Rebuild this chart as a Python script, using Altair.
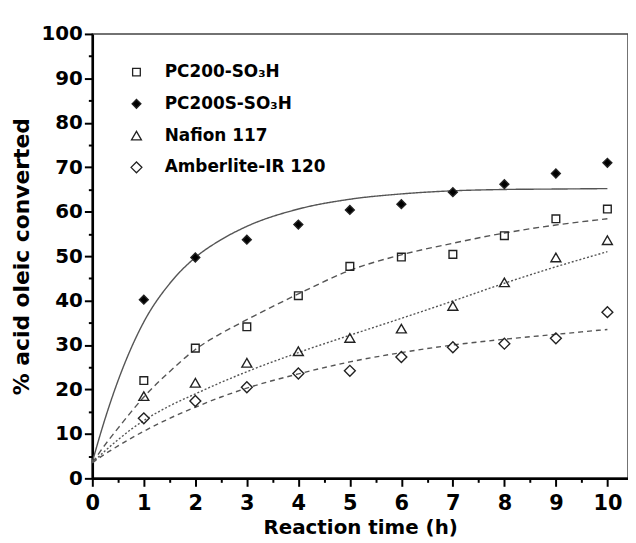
import altair as alt
import pandas as pd

series = ["PC200-SO₃H", "PC200S-SO₃H", "Nafion 117", "Amberlite-IR 120"]
shapes = ["square", "diamond", "triangle-up", "diamond"]
fills = ["transparent", "black", "transparent", "transparent"]
sizes = [60, 120, 95, 115]
dashes = [[6, 4], [1, 0], [2, 2], [5, 4]]

# measured points
times = [1, 2, 3, 4, 5, 6, 7, 8, 9, 10]
pc200 = [22.0, 29.3, 34.1, 41.1, 47.7, 49.8, 50.4, 54.6, 58.4, 60.6]
pc200s = [40.2, 49.7, 53.7, 57.1, 60.4, 61.7, 64.4, 66.2, 68.6, 71.0]
nafion = [18.5, 21.5, 26.0, 28.6, 31.6, 33.7, 38.8, 44.1, 49.7, 53.6]
amberlite = [13.5, 17.4, 20.5, 23.6, 24.2, 27.3, 29.5, 30.3, 31.5, 37.4]

# fitted curves
fit_t = [0, 0.25, 0.5, 0.75, 1, 1.5, 2, 2.5, 3, 4, 5, 6, 7, 8, 9, 10]
pc200_fit = [3.5, 7.6, 11.3, 14.9, 18.3, 24.0, 29.0, 32.6, 35.7, 41.5, 46.8, 50.3, 52.9, 55.2, 57.0, 58.4]
pc200s_fit = [3.7, 13.5, 22.0, 29.2, 35.2, 43.8, 49.7, 53.7, 56.7, 60.6, 62.8, 64.0, 64.7, 65.0, 65.1, 65.2]
nafion_fit = [3.5, 6.2, 8.7, 11.0, 13.0, 16.3, 19.0, 21.6, 24.0, 28.3, 32.2, 36.0, 39.9, 43.9, 47.6, 51.0]
amberlite_fit = [3.5, 5.5, 7.3, 9.0, 10.6, 13.5, 16.0, 18.3, 20.3, 23.5, 26.2, 28.3, 30.0, 31.3, 32.4, 33.5]

pt_vals = [pc200, pc200s, nafion, amberlite]
fit_vals = [pc200_fit, pc200s_fit, nafion_fit, amberlite_fit]

pts = pd.DataFrame(
    [{"series": s, "t": t, "y": v} for s, vals in zip(series, pt_vals) for t, v in zip(times, vals)]
)
fits = pd.DataFrame(
    [{"series": s, "t": t, "y": v} for s, vals in zip(series, fit_vals) for t, v in zip(fit_t, vals)]
)

FONT = "DejaVu Sans"

x_ticks = [i * 0.5 for i in range(21)]
y_ticks = [i * 5 for i in range(21)]

x_enc = alt.X(
    "t:Q",
    scale=alt.Scale(domain=[0, 10.4], nice=False, zero=False),
    axis=alt.Axis(
        values=x_ticks,
        labelExpr="datum.value % 1 === 0 ? format(datum.value, 'd') : ''",
        labelOverlap=False,
        labelBound=False,
        labelFlush=False,
        tickSize={"condition": {"test": "datum.value % 1 === 0", "value": 8}, "value": 4},
        labelFontSize=21,
        labelPadding=6,
        title="Reaction time (h)",
        titleFontSize=20,
        titlePadding=5,
    ),
)
y_enc = alt.Y(
    "y:Q",
    scale=alt.Scale(domain=[0, 100], nice=False),
    axis=alt.Axis(
        values=y_ticks,
        labelExpr="datum.value % 10 === 0 ? format(datum.value, 'd') : ''",
        labelOverlap=False,
        labelFlush=False,
        tickSize={"condition": {"test": "datum.value % 10 === 0", "value": 8}, "value": 4},
        labelFontSize=20,
        labelPadding=2,
        title="% acid oleic converted",
        titleFontSize=22,
        titlePadding=8,
    ),
)

leg = alt.Legend(
    title=None,
    orient="none",
    legendX=36,
    legendY=30,
    padding=0,
    labelFont=FONT,
    labelFontWeight="bold",
    labelFontSize=17,
    labelColor="black",
    labelOffset=20,
    labelLimit=0,
    rowPadding=14,
    symbolStrokeWidth=1.3,
    symbolOpacity=1,
)

lines = alt.Chart(fits).mark_line(interpolate="monotone", color="#555555", strokeWidth=1.4).encode(
    x=x_enc,
    y=y_enc,
    strokeDash=alt.StrokeDash("series:N", scale=alt.Scale(domain=series, range=dashes), legend=None),
    detail="series:N",
)

points = alt.Chart(pts).mark_point(strokeWidth=1.4, opacity=1).encode(
    x=x_enc,
    y=y_enc,
    shape=alt.Shape("series:N", scale=alt.Scale(domain=series, range=shapes), legend=leg),
    fill=alt.Fill("series:N", scale=alt.Scale(domain=series, range=fills), legend=leg),
    stroke=alt.Stroke("series:N", scale=alt.Scale(domain=series, range=["#222222"] * 4), legend=leg),
    size=alt.Size("series:N", scale=alt.Scale(domain=series, range=sizes), legend=leg),
)

chart = (
    alt.layer(lines, points)
    .resolve_legend(strokeDash="independent")
    .properties(
        width=540,
        height=448,
        autosize=alt.AutoSizeParams(type="none"),
        padding={"left": 85, "top": 24, "right": 0, "bottom": 59},
    )
    .configure_view(stroke="#444444", strokeWidth=1.5)
    .configure_axis(
        grid=False,
        domainColor="black",
        domainWidth=2.5,
        tickColor="black",
        tickWidth=2,
        labelFont=FONT,
        labelFontWeight="bold",
        labelColor="black",
        titleFont=FONT,
        titleFontWeight="bold",
        titleColor="black",
    )
)

chart.save("out.html", embed_options={"renderer": "svg", "actions": False})
